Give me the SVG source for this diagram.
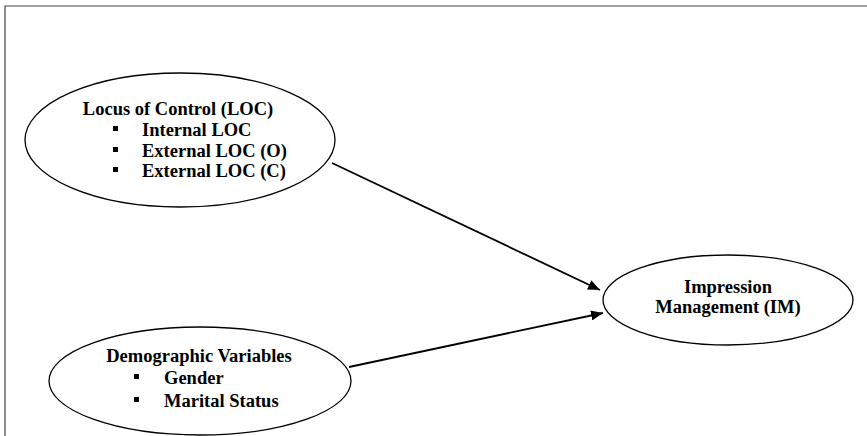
<svg xmlns="http://www.w3.org/2000/svg" width="867" height="436" viewBox="0 0 867 436">
<defs>
<marker id="ah" viewBox="0 0 12 10" refX="12" refY="5" markerWidth="12" markerHeight="10" markerUnits="userSpaceOnUse" orient="auto">
<path d="M0,0 L12,5 L0,10 Z" fill="#000"/>
</marker>
</defs>
<style>
.node{fill:#fff;stroke:#000;stroke-width:1.3}
.t{font-family:"Liberation Serif","Times New Roman",serif;font-weight:bold;font-size:18.5px;fill:#000}
.b{font-family:"DejaVu Sans",sans-serif;font-size:16px;fill:#000}
.edge{stroke:#000;stroke-width:1.8;fill:none;marker-end:url(#ah)}
.frame{stroke:#444;stroke-width:1.2;fill:none}
</style>
<rect width="867" height="436" fill="#fff"/>
<path class="frame" d="M5,436 L5,6 L867,6"/>
<g id="connectors">
<line class="edge" x1="332" y1="163" x2="600" y2="290"/>
<line class="edge" x1="349" y1="367" x2="603" y2="313"/>
</g>
<g id="loc">
<ellipse class="node" cx="180" cy="140" rx="155" ry="67"/>
<text class="t" x="178" y="115" text-anchor="middle">Locus of Control (LOC)</text>
<rect x="113" y="126" width="5" height="5"/>
<text class="t" x="142" y="136">Internal LOC</text>
<rect x="113" y="147" width="5" height="5"/>
<text class="t" x="142" y="157">External LOC (O)</text>
<rect x="113" y="167" width="5" height="5"/>
<text class="t" x="142" y="177">External LOC (C)</text>
</g>
<g id="demo">
<ellipse class="node" cx="200" cy="381" rx="151" ry="54"/>
<text class="t" x="199" y="362" text-anchor="middle">Demographic Variables</text>
<rect x="134" y="374" width="5" height="5"/>
<text class="t" x="164" y="384">Gender</text>
<rect x="134" y="397" width="5" height="5"/>
<text class="t" x="164" y="407">Marital Status</text>
</g>
<g id="im">
<ellipse class="node" cx="728" cy="300" rx="125" ry="45"/>
<text class="t" x="728" y="293" text-anchor="middle">Impression</text>
<text class="t" x="728" y="313" text-anchor="middle">Management (IM)</text>
</g>
</svg>
